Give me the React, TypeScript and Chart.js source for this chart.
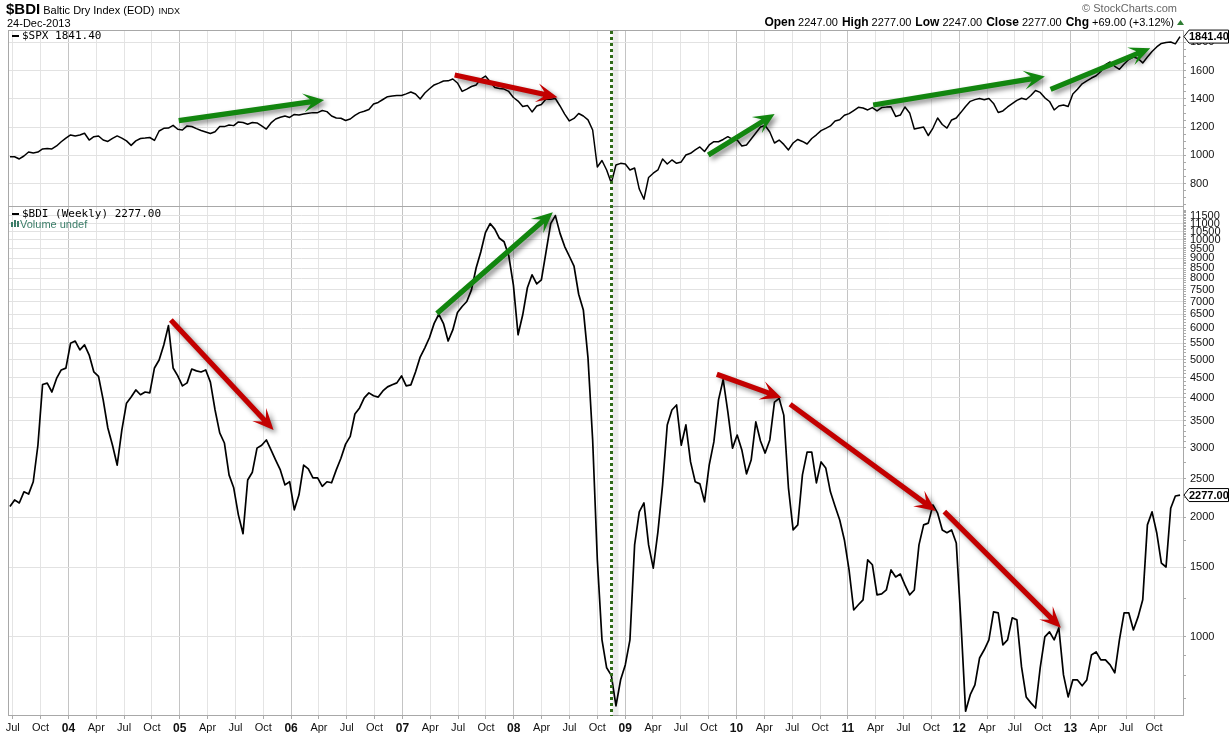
import React, { useEffect, useRef } from 'react';
import { Chart, registerables } from 'chart.js';

Chart.register(...registerables);

const FONT = '"Liberation Sans", Arial, sans-serif';
const MONO = '"DejaVu Sans Mono", monospace';

// dates are counted in months from Jan 2003; samples run from late Jun 2003 to 24-Dec-2013
const FIRST_MONTH = 5.7;
const LAST_MONTH = 131.8;

const SPX_CLOSE = [
  991, 991, 975, 996, 1024, 1017, 1024, 1046, 1049, 1046, 1067, 1097,
  1123, 1145, 1138, 1145, 1157, 1109, 1133, 1138, 1109, 1099, 1121, 1138,
  1123, 1103, 1071, 1103, 1120, 1123, 1127, 1106, 1173, 1192, 1194, 1213,
  1185, 1180, 1209, 1205, 1190, 1177, 1166, 1155, 1168, 1204, 1204, 1216,
  1211, 1237, 1233, 1221, 1233, 1230, 1209, 1187, 1230, 1258, 1270, 1279,
  1269, 1290, 1286, 1293, 1298, 1303, 1303, 1318, 1310, 1279, 1265, 1263,
  1247, 1258, 1283, 1303, 1313, 1325, 1364, 1375, 1396, 1416, 1421, 1424,
  1424, 1436, 1449, 1435, 1400, 1442, 1472, 1499, 1512, 1527, 1528, 1541,
  1513, 1453, 1470, 1488, 1499, 1541, 1562, 1521, 1481, 1474, 1470, 1453,
  1410, 1385, 1347, 1354, 1308, 1350, 1361, 1400, 1398, 1403, 1350, 1293,
  1244, 1262, 1297, 1279, 1252, 1180, 918, 964, 897, 805, 932, 944,
  939, 897, 911, 762, 690, 844, 874, 897, 975, 939, 968, 944,
  954, 1003, 1015, 1039, 1060, 1028, 1074, 1097, 1097, 1113, 1133, 1113,
  1109, 1067, 1074, 1116, 1159, 1201, 1212, 1166, 1088, 1109, 1078, 1039,
  1088, 1113, 1099, 1081, 1120, 1146, 1176, 1192, 1209, 1244, 1252, 1284,
  1296, 1318, 1341, 1336, 1322, 1339, 1315, 1339, 1342, 1344, 1276, 1286,
  1343, 1301, 1187, 1194, 1201, 1141, 1194, 1265, 1219, 1194, 1251, 1265,
  1305, 1347, 1383, 1395, 1403, 1394, 1403, 1368, 1304, 1315, 1343, 1366,
  1390, 1405, 1396, 1424, 1460, 1446, 1408, 1382, 1322, 1350, 1357, 1347,
  1435, 1468, 1507, 1528, 1548, 1564, 1594, 1642, 1662, 1631, 1610, 1647,
  1679, 1696, 1686, 1655, 1697, 1736, 1768, 1793, 1800, 1803, 1790, 1841.4,
];

const BDI_CLOSE = [
  2130, 2214, 2175, 2320, 2290, 2460, 3040, 4325, 4360, 4140, 4480, 4705,
  4755, 5490, 5565, 5285, 5440, 5130, 4650, 4535, 3955, 3360, 3040, 2710,
  3320, 3880, 4020, 4190, 4075, 4140, 4120, 4760, 4985, 5440, 6085, 4760,
  4545, 4290, 4365, 4730, 4680, 4650, 4705, 4385, 3730, 3265, 3080, 2560,
  2375, 2030, 1820, 2485, 2600, 2990, 3040, 3135, 2960, 2790, 2635, 2415,
  2460, 2090, 2280, 2710, 2650, 2515, 2515, 2395, 2460, 2445, 2635, 2820,
  3060, 3200, 3645, 3775, 4000, 4120, 4050, 4020, 4165, 4265, 4320, 4365,
  4545, 4290, 4315, 4650, 5070, 5350, 5680, 6165, 6500, 6160, 5565, 5935,
  6570, 6800, 7000, 7485, 8500, 9330, 10435, 11000, 10650, 10100, 9900, 9130,
  7700, 5770, 6480, 7580, 8170, 7750, 7930, 9330, 11000, 11520, 10390, 9625,
  9100, 8590, 7300, 6665, 5045, 3135, 1565, 983, 836, 800, 670, 780,
  850, 983, 1705, 2065, 2175, 1705, 1490, 1840, 2415, 3420, 3730, 3840,
  3040, 3420, 2760, 2460, 2430, 2190, 2710, 3100, 3955, 4450, 3690, 2990,
  3225, 2958, 2575, 2790, 3480, 3115, 2905, 3135, 3905, 3990, 3620, 2375,
  1860, 1915, 2560, 2920, 2920, 2445, 2760, 2665, 2320, 2135, 1970, 1755,
  1475, 1169, 1205, 1240, 1563, 1520, 1276, 1284, 1313, 1475, 1416, 1440,
  1350, 1276, 1313, 1705, 1915, 1935, 2150, 2050, 1860, 1830, 1860, 1725,
  1090, 650, 715, 757, 885, 928, 983, 1156, 1150, 955, 983, 1117,
  1104, 840, 706, 682, 662, 836, 1000, 1030, 983, 1054, 802, 706,
  779, 779, 753, 779, 900, 917, 875, 875, 850, 812, 983, 1150,
  1150, 1041, 1123, 1240, 1915, 2065, 1830, 1535, 1500, 2110, 2265, 2277,
];

// one label per quarter, starting Jul 2003
const X_TICK_LABELS = [
  'Jul', 'Oct',
  '04', 'Apr', 'Jul', 'Oct', '05', 'Apr', 'Jul', 'Oct',
  '06', 'Apr', 'Jul', 'Oct', '07', 'Apr', 'Jul', 'Oct',
  '08', 'Apr', 'Jul', 'Oct', '09', 'Apr', 'Jul', 'Oct',
  '10', 'Apr', 'Jul', 'Oct', '11', 'Apr', 'Jul', 'Oct',
  '12', 'Apr', 'Jul', 'Oct', '13', 'Apr', 'Jul', 'Oct',
];
const SPX_TICKS = [800, 1000, 1200, 1400, 1600, 1800];
const BDI_TICKS = [
  1000, 1500, 2000, 2500, 3000, 3500, 4000, 4500, 5000, 5500, 6000,
  6500, 7000, 7500, 8000, 8500, 9000, 9500, 10000, 10500, 11000, 11500,
];

// hand-drawn trend arrows: [start month, start value, end month, end value]
const SPX_TRENDS = [
  [23.89, 1246, 39.56, 1393],
  [53.63, 1570, 64.71, 1412],
  [80.96, 1003, 88.11, 1293],
  [98.73, 1357, 117.23, 1558],
  [117.85, 1468, 128.59, 1759],
];
const BDI_TRENDS = [
  [23.04, 6288, 34.11, 3322],
  [51.72, 6530, 64.21, 11745],
  [81.88, 4588, 88.85, 4007],
  [89.78, 3856, 105.47, 2077],
  [106.4, 2068, 118.96, 1055],
];
const CRASH_MONTH = 70.5;

const QUOTE = [
  ['Open', '2247.00'],
  ['High', '2277.00'],
  ['Low', '2247.00'],
  ['Close', '2277.00'],
  ['Chg', '+69.00 (+3.12%)'],
];

const GREEN = '#12860f';
const RED = '#c30000';

const monthAt = (i: number, n: number) => FIRST_MONTH + (i * (LAST_MONTH - FIRST_MONTH)) / (n - 1);
const isYear = (i: number) => /^\d\d$/.test(X_TICK_LABELS[i] || '');

const spxMinor: number[] = [];
for (let v = 650; v <= 1850; v += 50) spxMinor.push(v);
const bdiMinor: number[] = [700, 800, 900, 1250, 1750, 2250, 2750];
for (let v = 3100; v <= 12000; v += 100) if (v % 500 !== 0) bdiMinor.push(v);

function drawArrow(ctx: CanvasRenderingContext2D, x1: number, y1: number, x2: number, y2: number, color: string) {
  const dx = x2 - x1;
  const dy = y2 - y1;
  const len = Math.hypot(dx, dy);
  const ux = dx / len;
  const uy = dy / len;
  const nx = -uy;
  const ny = ux;
  const hw = 2.6;
  const L = 21;
  const W = 9.5;
  const notch = 7;
  const bx = x2 - ux * L;
  const by = y2 - uy * L;
  const qx = x2 - ux * (L - notch);
  const qy = y2 - uy * (L - notch);
  ctx.save();
  ctx.shadowColor = 'rgba(0,0,0,0.45)';
  ctx.shadowBlur = 5;
  ctx.shadowOffsetX = 3;
  ctx.shadowOffsetY = 3;
  ctx.fillStyle = color;
  ctx.beginPath();
  ctx.moveTo(x1 + nx * hw, y1 + ny * hw);
  ctx.lineTo(qx + nx * hw, qy + ny * hw);
  ctx.lineTo(bx + nx * W, by + ny * W);
  ctx.lineTo(x2, y2);
  ctx.lineTo(bx - nx * W, by - ny * W);
  ctx.lineTo(qx - nx * hw, qy - ny * hw);
  ctx.lineTo(x1 - nx * hw, y1 - ny * hw);
  ctx.closePath();
  ctx.fill();
  ctx.restore();
}

function drawTag(ctx: CanvasRenderingContext2D, x0: number, y: number, text: string) {
  ctx.save();
  ctx.beginPath();
  ctx.moveTo(x0, y);
  ctx.lineTo(x0 + 5, y - 6.5);
  ctx.lineTo(1228.5, y - 6.5);
  ctx.lineTo(1228.5, y + 6.5);
  ctx.lineTo(x0 + 5, y + 6.5);
  ctx.closePath();
  ctx.fillStyle = '#fff';
  ctx.fill();
  ctx.strokeStyle = '#000';
  ctx.lineWidth = 1;
  ctx.stroke();
  ctx.fillStyle = '#000';
  ctx.font = `bold 11px ${FONT}`;
  ctx.textBaseline = 'middle';
  ctx.fillText(text, x0 + 5, y + 0.5);
  ctx.restore();
}

const overlayPlugin = {
  id: 'overlay',
  afterDatasetsDraw(chart: any) {
    const { ctx, chartArea } = chart;
    const xs = chart.scales.x;
    const ys = chart.scales.ySpx;
    const yb = chart.scales.yBdi;

    // panel frames
    ctx.save();
    ctx.strokeStyle = '#a8a8a8';
    ctx.lineWidth = 1;
    ctx.strokeRect(chartArea.left + 0.5, ys.top + 0.5, chartArea.right - chartArea.left, ys.bottom - ys.top);
    ctx.strokeRect(chartArea.left + 0.5, yb.top + 0.5, chartArea.right - chartArea.left, yb.bottom - yb.top - 1);
    ctx.restore();

    // crash marker
    const cx = Math.round(xs.getPixelForValue(CRASH_MONTH)) + 0.5;
    ctx.save();
    ctx.fillStyle = 'rgba(0,0,0,0.07)';
    ctx.fillRect(cx + 1, chartArea.top, 6, chartArea.bottom - chartArea.top);
    ctx.strokeStyle = '#2f6b18';
    ctx.lineWidth = 3;
    ctx.setLineDash([3, 3]);
    ctx.beginPath();
    ctx.moveTo(cx, chartArea.top + 1);
    ctx.lineTo(cx, chartArea.bottom);
    ctx.stroke();
    ctx.restore();

    SPX_TRENDS.forEach(([m1, v1, m2, v2]) => {
      drawArrow(ctx, xs.getPixelForValue(m1), ys.getPixelForValue(v1), xs.getPixelForValue(m2), ys.getPixelForValue(v2), v2 > v1 ? GREEN : RED);
    });
    BDI_TRENDS.forEach(([m1, v1, m2, v2]) => {
      drawArrow(ctx, xs.getPixelForValue(m1), yb.getPixelForValue(v1), xs.getPixelForValue(m2), yb.getPixelForValue(v2), v2 > v1 ? GREEN : RED);
    });
  },
  afterDraw(chart: any) {
    const { ctx, chartArea } = chart;
    const ys = chart.scales.ySpx;
    const yb = chart.scales.yBdi;
    const spxLast = SPX_CLOSE[SPX_CLOSE.length - 1];
    const bdiLast = BDI_CLOSE[BDI_CLOSE.length - 1];

    ctx.save();
    ctx.fillStyle = '#000';
    ctx.textBaseline = 'alphabetic';
    ctx.textAlign = 'left';
    ctx.font = `bold 15px ${FONT}`;
    ctx.fillText('$BDI', 6, 14);
    let x = 6 + ctx.measureText('$BDI').width + 3;
    ctx.font = `11px ${FONT}`;
    ctx.fillText('Baltic Dry Index (EOD)', x, 14);
    x += ctx.measureText('Baltic Dry Index (EOD)').width + 4;
    ctx.font = `9px ${FONT}`;
    ctx.fillText('INDX', x, 14);
    ctx.font = `11px ${FONT}`;
    ctx.fillText('24-Dec-2013', 7, 27);

    // quote line, right-aligned
    const GAP = 4;
    const fontFor = (b: boolean) => (b ? `bold 12px ${FONT}` : `11px ${FONT}`);
    let total = 0;
    QUOTE.forEach(([k, v], i) => {
      ctx.font = fontFor(true);
      total += ctx.measureText(k).width;
      ctx.font = fontFor(false);
      total += ctx.measureText(' ' + v).width + (i < QUOTE.length - 1 ? GAP : 0);
    });
    x = 1174 - total;
    QUOTE.forEach(([k, v]) => {
      ctx.font = fontFor(true);
      ctx.fillText(k, x, 26);
      x += ctx.measureText(k).width;
      ctx.font = fontFor(false);
      ctx.fillText(' ' + v, x, 26);
      x += ctx.measureText(' ' + v).width + GAP;
    });
    ctx.fillStyle = '#2e7d32';
    ctx.beginPath();
    ctx.moveTo(1177, 25);
    ctx.lineTo(1184, 25);
    ctx.lineTo(1180.5, 20);
    ctx.closePath();
    ctx.fill();

    ctx.fillStyle = '#666';
    ctx.textAlign = 'right';
    ctx.font = `11px ${FONT}`;
    ctx.fillText('\u00a9 StockCharts.com', 1177, 12);
    ctx.textAlign = 'left';

    // panel legends
    ctx.fillStyle = '#000';
    ctx.textBaseline = 'middle';
    ctx.fillRect(chartArea.left + 4, ys.top + 5, 7, 2);
    ctx.font = `11px ${MONO}`;
    ctx.fillText(`$SPX ${spxLast.toFixed(2)}`, chartArea.left + 14, ys.top + 6);
    ctx.fillRect(chartArea.left + 4, yb.top + 7, 7, 2);
    ctx.fillText(`$BDI (Weekly) ${bdiLast.toFixed(2)}`, chartArea.left + 14, yb.top + 8);
    ctx.fillStyle = '#3b7d68';
    ctx.fillRect(chartArea.left + 3, yb.top + 16, 2, 5);
    ctx.fillRect(chartArea.left + 6, yb.top + 14, 2, 7);
    ctx.fillRect(chartArea.left + 9, yb.top + 15, 2, 6);
    ctx.font = `11px ${FONT}`;
    ctx.fillText('Volume undef', chartArea.left + 12, yb.top + 18.5);
    ctx.restore();

    drawTag(ctx, chartArea.right + 1, ys.getPixelForValue(spxLast), spxLast.toFixed(2));
    drawTag(ctx, chartArea.right + 1, yb.getPixelForValue(bdiLast), bdiLast.toFixed(2));
  },
};

const App: React.FC = () => {
  const canvasRef = useRef<HTMLCanvasElement>(null);
  const chartRef = useRef<Chart | null>(null);

  useEffect(() => {
    if (!canvasRef.current) return;
    chartRef.current?.destroy();

    const tickFont = { family: FONT, size: 11 };

    chartRef.current = new Chart(canvasRef.current, {
      type: 'line',
      data: {
        datasets: [
          {
            label: '$SPX',
            data: SPX_CLOSE.map((v, i) => ({ x: monthAt(i, SPX_CLOSE.length), y: v })),
            yAxisID: 'ySpx',
            borderColor: '#000',
            borderWidth: 1.5,
            pointRadius: 0,
            tension: 0,
            borderJoinStyle: 'round',
          },
          {
            label: '$BDI',
            data: BDI_CLOSE.map((v, i) => ({ x: monthAt(i, BDI_CLOSE.length), y: v })),
            yAxisID: 'yBdi',
            borderColor: '#000',
            borderWidth: 1.7,
            pointRadius: 0,
            tension: 0,
            borderJoinStyle: 'round',
          },
        ],
      },
      options: {
        responsive: false,
        animation: false,
        events: [],
        layout: { padding: { left: 8, top: 30, right: 0, bottom: 0 } },
        plugins: { legend: { display: false }, tooltip: { enabled: false } },
        scales: {
          x: {
            type: 'linear',
            min: 5.49,
            max: 132.12,
            bounds: 'data',
            afterBuildTicks: (s: any) => {
              s.ticks = X_TICK_LABELS.map((_, k) => ({ value: 6 + 3 * k }));
            },
            afterFit: (s: any) => {
              s.height = 20;
            },
            ticks: {
              autoSkip: false,
              maxRotation: 0,
              padding: 2,
              color: '#111',
              font: (c: any) => (isYear(c.index) ? { family: FONT, size: 12, weight: 'bold' } : tickFont),
              callback: (_v: any, i: number) => X_TICK_LABELS[i],
            },
            grid: {
              color: (c: any) => (isYear(c.index) ? '#c4c4c4' : '#e4e4e4'),
              tickLength: 3,
              tickColor: '#aaa',
            },
            border: { display: false },
          },
          ySpx: {
            type: 'linear',
            position: 'right',
            stack: 'panels',
            stackWeight: 176,
            min: 642,
            max: 1888,
            bounds: 'data',
            afterBuildTicks: (s: any) => {
              s.ticks = spxMinor.map((v) => ({ value: v }));
            },
            afterFit: (s: any) => {
              s.width = 47;
            },
            ticks: {
              autoSkip: false,
              padding: 4,
              color: '#111',
              font: tickFont,
              callback: (v: any) => (SPX_TICKS.includes(Number(v)) ? String(v) : ''),
            },
            grid: {
              color: (c: any) => (c.tick && SPX_TICKS.includes(c.tick.value) ? '#e2e2e2' : 'rgba(0,0,0,0)'),
              tickLength: 3,
              tickColor: '#aaa',
            },
            border: { display: false },
          },
          yBdi: {
            type: 'logarithmic',
            position: 'right',
            stack: 'panels',
            stackWeight: 510,
            min: 632,
            max: 12180,
            bounds: 'data',
            afterBuildTicks: (s: any) => {
              s.ticks = [...BDI_TICKS, ...bdiMinor].sort((a, b) => a - b).map((v) => ({ value: v }));
            },
            afterFit: (s: any) => {
              s.width = 47;
            },
            ticks: {
              autoSkip: false,
              padding: 4,
              color: '#111',
              font: tickFont,
              callback: (v: any) => (BDI_TICKS.includes(Number(v)) ? String(v) : ''),
            },
            grid: {
              color: (c: any) => (c.tick && BDI_TICKS.includes(c.tick.value) ? '#e2e2e2' : 'rgba(0,0,0,0)'),
              tickLength: 3,
              tickColor: '#aaa',
            },
            border: { display: false },
          },
        },
      } as any,
      plugins: [overlayPlugin],
    });

    return () => {
      chartRef.current?.destroy();
      chartRef.current = null;
    };
  }, []);

  return (
    <div style={{ position: 'absolute', left: 0, top: 0, width: 1230, height: 736, background: '#fff' }}>
      <canvas ref={canvasRef} width={1230} height={736} style={{ display: 'block' }} />
    </div>
  );
};

export default App;
